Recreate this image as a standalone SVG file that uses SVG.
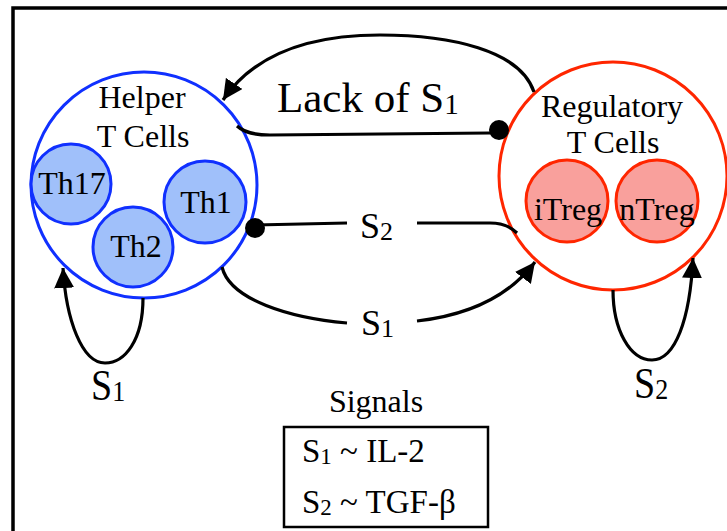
<svg xmlns="http://www.w3.org/2000/svg" width="727" height="531" viewBox="0 0 727 531">
  <defs>
    <marker id="arrow" viewBox="0 0 20 20" refX="20" refY="10" markerWidth="20" markerHeight="20" markerUnits="userSpaceOnUse" orient="auto">
      <path d="M0,0 L20,10 L0,20 z" fill="#000"/>
    </marker>
    <style>
      text { font-family: "Liberation Serif", "Times New Roman", serif; fill: #000; }
      .outer-h { fill: #fff; stroke: #1030ff; stroke-width: 3; }
      .inner-h { fill: #a0c0fa; stroke: #1030ff; stroke-width: 3; }
      .outer-r { fill: #fff; stroke: #ff2600; stroke-width: 3; }
      .inner-r { fill: #f9a09c; stroke: #ff2600; stroke-width: 3; }
      .lbl { font-size: 32px; text-anchor: middle; }
      .conn { fill: none; stroke: #000; stroke-width: 3.2; }
      .dot { fill: #000; }
    </style>
  </defs>
  <rect x="0" y="0" width="727" height="531" fill="#fff"/>
  <rect x="13" y="8" width="730" height="540" fill="none" stroke="#000" stroke-width="3.5"/>

  <g id="helper">
    <circle class="outer-h" cx="144" cy="185" r="113"/>
    <text class="lbl" x="142" y="108" font-size="33">Helper</text>
    <text class="lbl" x="143" y="147" font-size="33">T Cells</text>
  </g>
  <g id="th17">
    <circle class="inner-h" cx="71" cy="184" r="40"/>
    <text class="lbl" x="72" y="194">Th17</text>
  </g>
  <g id="th2">
    <circle class="inner-h" cx="133" cy="247" r="40"/>
    <text class="lbl" x="136" y="257">Th2</text>
  </g>
  <g id="th1">
    <circle class="inner-h" cx="205" cy="202" r="41"/>
    <text class="lbl" x="206" y="213">Th1</text>
  </g>

  <g id="regulatory">
    <circle class="outer-r" cx="613" cy="176" r="114"/>
    <text class="lbl" x="612" y="117" font-size="33">Regulatory</text>
    <text class="lbl" x="613" y="153" font-size="33">T Cells</text>
  </g>
  <g id="itreg">
    <circle class="inner-r" cx="567" cy="201" r="41"/>
    <text class="lbl" x="568" y="220">iTreg</text>
  </g>
  <g id="ntreg">
    <circle class="inner-r" cx="657" cy="201" r="41"/>
    <text class="lbl" x="657" y="220">nTreg</text>
  </g>

  <g id="connectors">
    <path class="conn" d="M534,92 C520,50 450,35 380,35 C300,35 250,60 223,100" marker-end="url(#arrow)"/>
    <path class="conn" d="M237,126 C245,133 255,135 270,135 L490,133"/>
    <circle class="dot" cx="499" cy="130" r="10"/>
    <path class="conn" d="M255,225 L347,223"/>
    <path class="conn" d="M417,223 L490,223 C505,223 512,228 517,233"/>
    <circle class="dot" cx="255" cy="228" r="10"/>
    <path class="conn" d="M222,267 C230,300 290,318 347,323"/>
    <path class="conn" d="M417,321 C470,315 510,295 535,262" marker-end="url(#arrow)"/>
    <path class="conn" d="M143,298 C143,340 125,363 105,363 C82,363 66,320 63,268" marker-end="url(#arrow)"/>
    <path class="conn" d="M613,290 C613,330 630,360 652,360 C675,360 690,320 693,258" marker-end="url(#arrow)"/>
  </g>

  <g id="labels">
    <text x="277" y="112" font-size="43">Lack of S<tspan font-size="29" dy="2">1</tspan></text>
    <text x="360" y="238" font-size="36">S<tspan font-size="26" dy="2">2</tspan></text>
    <text x="361" y="335" font-size="36">S<tspan font-size="26" dy="2">1</tspan></text>
    <text transform="translate(91,400) scale(1,1.15)" font-size="38">S<tspan font-size="26" dy="1">1</tspan></text>
    <text transform="translate(634,398) scale(1,1.15)" font-size="38">S<tspan font-size="26" dy="1">2</tspan></text>
  </g>

  <g id="legend">
    <text class="lbl" x="376" y="412" font-size="33">Signals</text>
    <rect x="284" y="427" width="204" height="100" fill="none" stroke="#000" stroke-width="2.5"/>
    <text x="302" y="462" font-size="33">S<tspan font-size="23" dy="2">1</tspan><tspan dy="-2"> ~ IL-2</tspan></text>
    <text x="302" y="513" font-size="33">S<tspan font-size="23" dy="2">2</tspan><tspan dy="-2"> ~ TGF-β</tspan></text>
  </g>
</svg>
